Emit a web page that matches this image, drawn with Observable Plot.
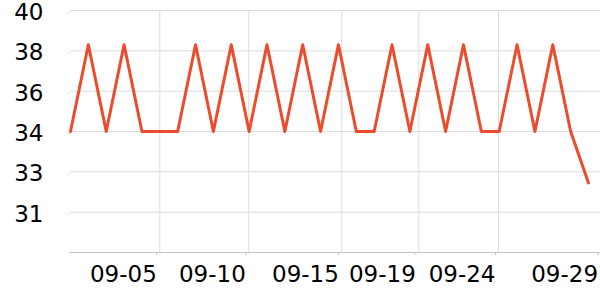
<!DOCTYPE html>
<html>
<head>
<meta charset="utf-8">
<script src="https://cdn.jsdelivr.net/npm/d3@7"></script>
<script src="https://cdn.jsdelivr.net/npm/@observablehq/plot@0.6"></script>
<style>
  html, body { margin: 0; padding: 0; background: #fff; }
  #chart svg { display: block; }
</style>
</head>
<body>
<div id="chart"></div>
<script>
// Values (one per day, index = day position)
const days = d3.range(30);
const values = [34, 38.3, 34, 38.3, 34, 34, 34, 38.3, 34, 38.3,
                34, 38.3, 34, 38.3, 34, 38.3, 34, 34, 38.3, 34,
                38.3, 34, 38.3, 34, 34, 38.3, 34, 38.3, 34, 31.45];

// Axis ticks (positions in day units) and their labels as shown
const xTickValues = [5, 9.98, 15.19, 19.5, 23.96, 29.7];
const xTickLabels = ["09-05", "09-10", "09-15", "09-19", "09-24", "09-29"];
const yTickValues = [40, 38, 36, 34, 32, 30];
const yTickLabels = ["40", "38", "36", "34", "33", "31"];

const data = days.map((d, i) => ({day: d, value: values[i]}));

const chart = Plot.plot({
  width: 600,
  height: 300,
  marginLeft: 70,
  marginRight: 0,
  marginTop: 10,
  marginBottom: 48,
  style: {fontFamily: "DejaVu Sans", fontSize: "23px", color: "#000", background: "#fff"},
  x: {domain: [0, 29.67]},
  y: {domain: [28, 40]},
  marks: [
    Plot.gridY(yTickValues, {stroke: "#dddddd", strokeOpacity: 1}),
    Plot.gridX(xTickValues, {stroke: "#dddddd", strokeOpacity: 1}),
    Plot.ruleY([28], {stroke: "#c4c4c4"}),
    Plot.axisY(yTickValues, {
      tickSize: 2, tickPadding: 25, stroke: "#dddddd", strokeOpacity: 1,
      tickFormat: (d) => yTickLabels[yTickValues.indexOf(d)],
      fontSize: 23, fill: "#000", label: null, dy: 2
    }),
    Plot.axisX(xTickValues, {
      tickSize: 3, tickPadding: 10, stroke: "#c4c4c4", strokeOpacity: 1,
      textAnchor: "end", dx: -3,
      tickFormat: (d) => xTickLabels[xTickValues.indexOf(d)],
      fontSize: 23, fill: "#000", label: null
    }),
    Plot.line(data, {x: "day", y: "value", stroke: "#ee4a2c", strokeWidth: 3})
  ]
});
document.getElementById("chart").appendChild(chart);
</script>
</body>
</html>
